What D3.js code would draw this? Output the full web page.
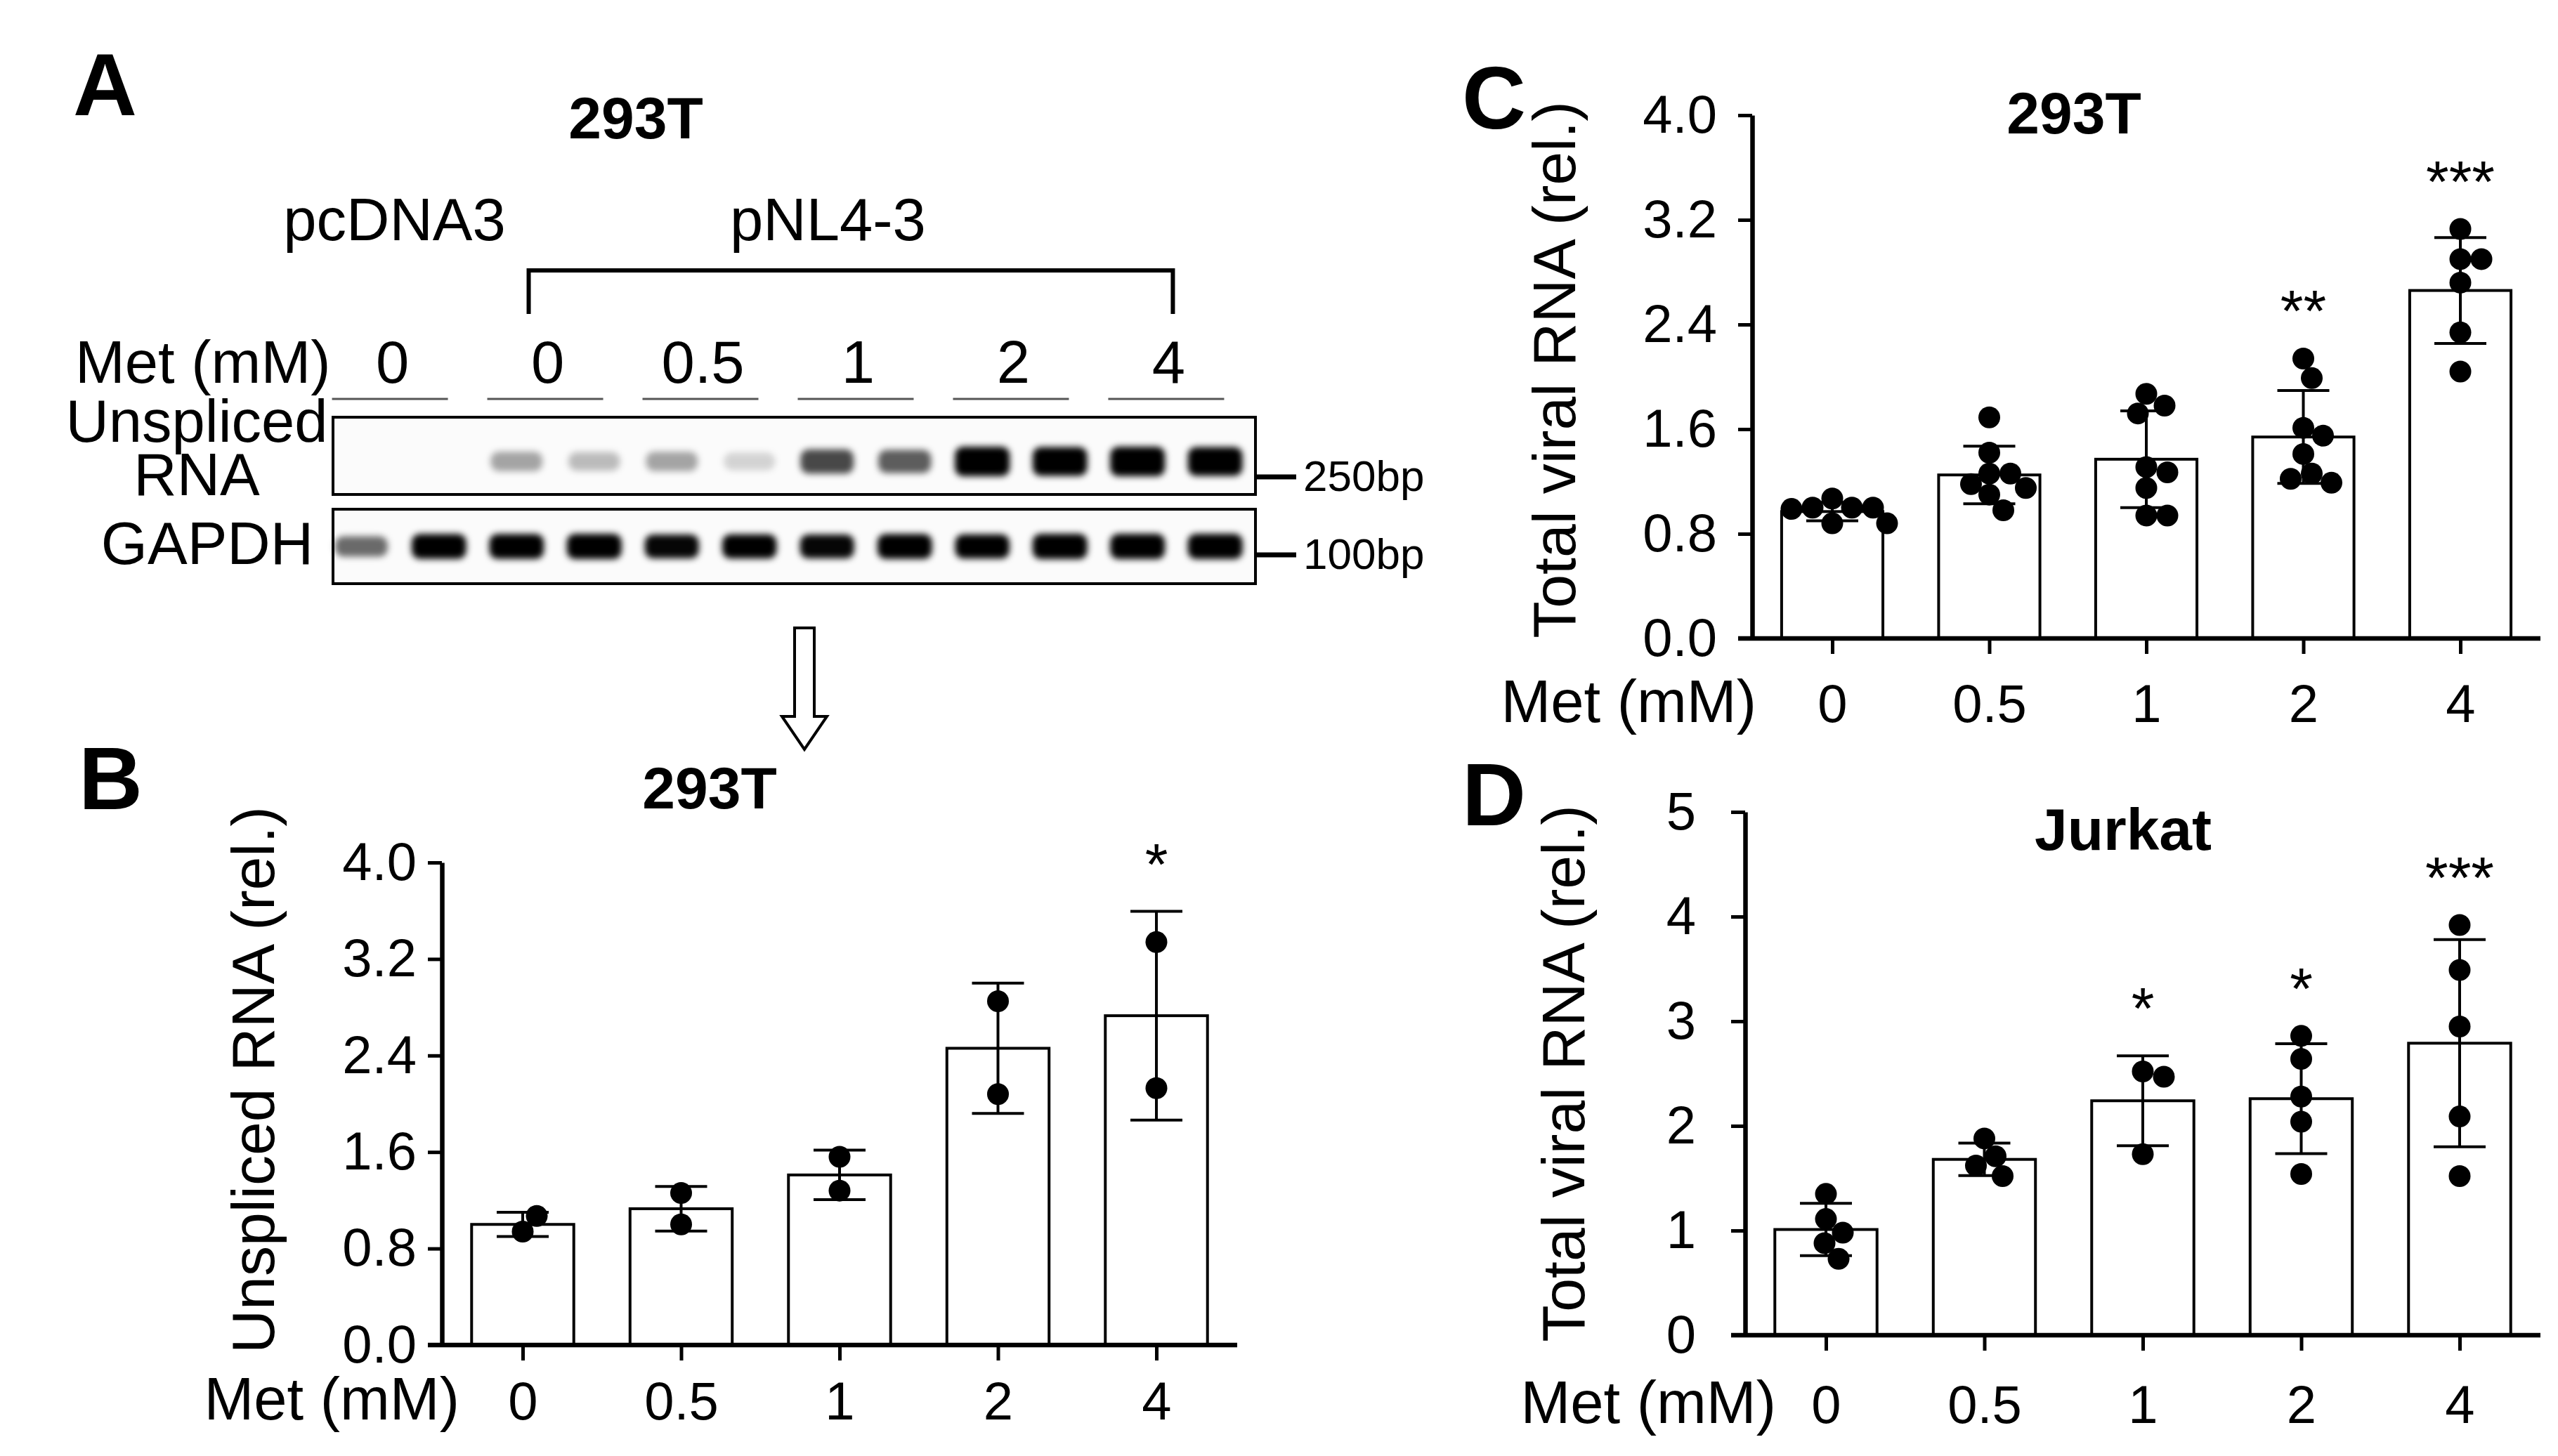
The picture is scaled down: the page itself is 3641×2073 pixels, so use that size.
<!DOCTYPE html>
<meta charset="utf-8">
<style>
body { margin: 0; background: #fff; }
text { font-family: "Liberation Sans", Arial, Helvetica, sans-serif; fill: #000; }
.title, .letter { font-weight: bold; }
</style>
<body>
<script src="https://cdn.jsdelivr.net/npm/d3@7"></script>
<script>

var doses = ["0", "0.5", "1", "2", "4"];

// panel A: gel lanes (pcDNA3 pair, then pNL4-3 pairs) and band strength 0..1
var laneDoses = ["0", "0", "0", "0", "0.5", "0.5", "1", "1", "2", "2", "4", "4"];
var unsplicedBands = [0, 0, 0.3, 0.22, 0.3, 0.14, 0.62, 0.55, 1, 0.95, 1, 0.95];
var gapdhBands = [0.5, 0.95, 0.95, 1, 0.85, 0.9, 0.85, 0.95, 0.9, 1, 1, 1];

// panel B: unspliced RNA, 293T
var bMean = [1.0, 1.13, 1.41, 2.46, 2.73];
var bSD = [0.10, 0.185, 0.205, 0.54, 0.865];
var bPoints = [[0.94, 1.07], [1.26, 1.0], [1.56, 1.28], [2.85, 2.08], [3.34, 2.13]];
var bStars = ["", "", "", "", "*"];
var bTicks = [0, 0.8, 1.6, 2.4, 3.2, 4.0];

// panel C: total viral RNA, 293T
var cMean = [0.97, 1.25, 1.37, 1.54, 2.66];
var cSD = [0.07, 0.22, 0.37, 0.355, 0.405];
var cPoints = [
  [1.07, 1.0, 1.0, 1.0, 0.99, 0.88, 0.88],
  [1.69, 1.42, 1.26, 1.26, 1.18, 1.15, 1.10, 0.98],
  [1.87, 1.78, 1.72, 1.31, 1.27, 1.15, 0.94, 0.94],
  [2.14, 1.99, 1.61, 1.55, 1.41, 1.26, 1.22, 1.19],
  [3.13, 2.90, 2.90, 2.72, 2.34, 2.04]
];
var cStars = ["", "", "", "**", "***"];
var cTicks = [0, 0.8, 1.6, 2.4, 3.2, 4.0];

// panel D: total viral RNA, Jurkat
var dMean = [1.01, 1.68, 2.24, 2.26, 2.79];
var dSD = [0.25, 0.155, 0.43, 0.525, 0.99];
var dPoints = [
  [1.35, 1.11, 0.98, 0.88, 0.73],
  [1.88, 1.71, 1.62, 1.52],
  [2.52, 2.47, 1.73],
  [2.86, 2.64, 2.28, 2.04, 1.54],
  [3.92, 3.49, 2.95, 2.09, 1.52]
];
var dStars = ["", "", "*", "*", "***"];
var dTicks = [0, 1, 2, 3, 4, 5];

var svg = d3.select("body").append("svg")
    .attr("width", 3641)
    .attr("height", 2073);

svg.append("rect").attr("width", 3641).attr("height", 2073).attr("fill", "#fff");

var defs = svg.append("defs");
defs.append("filter").attr("id", "blur")
    .attr("x", "-50%").attr("y", "-80%").attr("width", "200%").attr("height", "260%")
  .append("feGaussianBlur").attr("stdDeviation", 5);

function letter(s, x, y) {
  svg.append("text").attr("class", "letter")
      .attr("x", x).attr("y", y)
      .attr("font-size", 126)
      .text(s);
}

// simple beeswarm: push each dot sideways until it no longer overlaps
function swarm(vals, y, r) {
  var placed = [];
  return vals.map(function(v) {
    var py = y(v), off = 0;
    for (var k = 0; k < 400; k++) {
      var c = (k % 2 ? 1 : -1) * Math.ceil(k / 2) * 2;
      var ok = placed.every(function(q) {
        return (q[0] - c) * (q[0] - c) + (q[1] - py) * (q[1] - py) >= 4 * r * r * 0.92;
      });
      if (ok) { off = c; break; }
    }
    placed.push([off, py]);
    return off;
  });
}

function barPanel(p) {
  var x = d3.scalePoint().domain(doses).range([p.left, p.right]).padding(0.51);
  var y = d3.scaleLinear().domain([0, p.yMax]).range([p.bottom, p.top]);
  var bw = x.step() * 0.645;
  var r = 15.5;
  var g = svg.append("g");

  g.selectAll(".bar").data(p.mean).enter().append("rect")
      .attr("x", function(d, i) { return x(doses[i]) - bw / 2; })
      .attr("y", function(d) { return y(d); })
      .attr("width", bw)
      .attr("height", function(d) { return y(0) - y(d); })
      .attr("fill", "#fff")
      .attr("stroke", "#000")
      .attr("stroke-width", 4);

  // error bars, mean +/- SD
  p.mean.forEach(function(m, i) {
    var cx = x(doses[i]), hi = y(m + p.sd[i]), lo = y(m - p.sd[i]);
    g.append("line").attr("x1", cx).attr("x2", cx).attr("y1", hi).attr("y2", lo);
    g.append("line").attr("x1", cx - 37).attr("x2", cx + 37).attr("y1", hi).attr("y2", hi);
    g.append("line").attr("x1", cx - 37).attr("x2", cx + 37).attr("y1", lo).attr("y2", lo);
  });
  g.selectAll("line").attr("stroke", "#000").attr("stroke-width", 4);

  p.points.forEach(function(pts, i) {
    var offs = swarm(pts, y, r);
    g.selectAll(null).data(pts).enter().append("circle")
        .attr("cx", function(d, j) { return x(doses[i]) + offs[j]; })
        .attr("cy", function(d) { return y(d); })
        .attr("r", r)
        .attr("fill", "#000");
  });

  // significance stars
  p.stars.forEach(function(s, i) {
    if (!s) return;
    var top = Math.max(p.mean[i] + p.sd[i], d3.max(p.points[i]));
    g.append("text")
        .attr("x", x(doses[i]))
        .attr("y", y(top) - 38)
        .attr("text-anchor", "middle")
        .attr("font-size", 84)
        .text(s);
  });

  var yAxis = g.append("g")
      .attr("transform", "translate(" + p.left + ",0)")
      .call(d3.axisLeft(y).tickValues(p.ticks).tickFormat(p.fmt)
        .tickSize(20).tickSizeOuter(0).tickPadding(p.yPad));
  yAxis.select(".domain").attr("stroke-width", 6.5);
  yAxis.selectAll(".tick line").attr("stroke-width", 5);
  yAxis.selectAll("text").attr("font-size", 76).attr("font-family", null).attr("fill", "#000");

  var xAxis = g.append("g")
      .attr("transform", "translate(0," + p.bottom + ")")
      .call(d3.axisBottom(x).tickSize(22).tickSizeOuter(0));
  xAxis.select(".domain").remove();
  xAxis.selectAll(".tick line").attr("stroke-width", 5);
  xAxis.selectAll("text").attr("font-size", 76).attr("font-family", null).attr("fill", "#000")
      .attr("y", p.xBase).attr("dy", 0);
  g.append("line")
      .attr("x1", p.left - 20).attr("x2", p.right)
      .attr("y1", p.bottom).attr("y2", p.bottom)
      .attr("stroke", "#000").attr("stroke-width", 6.5);

  g.append("text")
      .attr("x", p.metEnd).attr("y", p.bottom + p.xBase)
      .attr("text-anchor", "end")
      .attr("font-size", 85)
      .text("Met (mM)");

  g.append("text")
      .attr("transform", "translate(" + p.yLabelX + "," + ((p.top + p.bottom) / 2 + p.yLabelShift) + ")rotate(-90)")
      .attr("text-anchor", "middle")
      .attr("font-size", 86)
      .text(p.yLabel);

  g.append("text").attr("class", "title")
      .attr("x", p.titleX).attr("y", p.titleY)
      .attr("text-anchor", "middle")
      .attr("font-size", 84)
      .text(p.title);
}

// ---------- panel A: gel ----------
letter("A", 104, 164);

svg.append("text").attr("class", "title")
    .attr("x", 905).attr("y", 197)
    .attr("text-anchor", "middle").attr("font-size", 84)
    .text("293T");

var lane = d3.scalePoint().domain(d3.range(12)).range([474, 1770]).padding(0.365);
var pairX = function(k) { return (lane(2 * k) + lane(2 * k + 1)) / 2; };

svg.append("text").attr("x", pairX(0) - 8).attr("y", 342)
    .attr("text-anchor", "middle").attr("font-size", 85).text("pcDNA3");
svg.append("text").attr("x", (pairX(1) + pairX(5)) / 2 - 54).attr("y", 342)
    .attr("text-anchor", "middle").attr("font-size", 85).text("pNL4-3");

svg.append("path")
    .attr("d", d3.line()([[pairX(1) - 38, 447], [pairX(1) - 38, 385], [pairX(5) - 5, 385], [pairX(5) - 5, 447]]))
    .attr("fill", "none").attr("stroke", "#000").attr("stroke-width", 6);

svg.append("text").attr("x", 107).attr("y", 545)
    .attr("font-size", 85).text("Met (mM)");

d3.range(6).forEach(function(k) {
  svg.append("text").attr("x", pairX(k) - 11).attr("y", 545)
      .attr("text-anchor", "middle").attr("font-size", 85)
      .text(laneDoses[2 * k]);
  svg.append("line")
      .attr("x1", pairX(k) - 97).attr("x2", pairX(k) + 68)
      .attr("y1", 568).attr("y2", 568)
      .attr("stroke", "#555").attr("stroke-width", 3);
});

svg.append("text").attr("x", 280).attr("y", 629)
    .attr("text-anchor", "middle").attr("font-size", 85).text("Unspliced");
svg.append("text").attr("x", 280).attr("y", 705)
    .attr("text-anchor", "middle").attr("font-size", 85).text("RNA");
svg.append("text").attr("x", 295).attr("y", 803)
    .attr("text-anchor", "middle").attr("font-size", 85).text("GAPDH");

function gelRow(bands, y0, y1, bandY, grow) {
  svg.append("rect")
      .attr("x", 474).attr("y", y0).attr("width", 1313).attr("height", y1 - y0)
      .attr("fill", "#fbfbfb").attr("stroke", "#000").attr("stroke-width", 4);
  svg.append("g").attr("filter", "url(#blur)")
    .selectAll("rect").data(bands).enter().append("rect")
      .attr("x", function(d, i) { return lane(i) - 36 - 3 * d; })
      .attr("y", function(d) { return bandY - grow * d - 11; })
      .attr("width", function(d) { return 72 + 6 * d; })
      .attr("height", function(d) { return 22 + 2 * grow * d; })
      .attr("rx", 12)
      .attr("fill", "#000")
      .attr("opacity", function(d) { return Math.min(1, d * 1.15); });
}
gelRow(unsplicedBands, 594, 704, 657, 10);
gelRow(gapdhBands, 725, 831, 778, 7);

[["250bp", 679], ["100bp", 790]].forEach(function(m) {
  svg.append("line").attr("x1", 1787).attr("x2", 1845)
      .attr("y1", m[1]).attr("y2", m[1])
      .attr("stroke", "#000").attr("stroke-width", 7);
  svg.append("text").attr("x", 1855).attr("y", m[1] + 20)
      .attr("font-size", 62).text(m[0]);
});

// hollow down arrow between A and B
var ax = 1145;
svg.append("path")
    .attr("d", d3.line()([[ax - 14, 894], [ax + 14, 894], [ax + 14, 1020], [ax + 32, 1020],
                          [ax, 1067], [ax - 32, 1020], [ax - 14, 1020]]) + "Z")
    .attr("fill", "#fff").attr("stroke", "#000").attr("stroke-width", 4);

// ---------- panels B, C, D ----------
letter("B", 112, 1152);
barPanel({
  left: 629, right: 1761, top: 1228, bottom: 1915, yMax: 4,
  mean: bMean, sd: bSD, points: bPoints, stars: bStars,
  ticks: bTicks, fmt: d3.format(".1f"), yPad: 16, xBase: 106,
  metEnd: 654, yLabelX: 390, yLabelShift: -34, yLabel: "Unspliced RNA (rel.)",
  title: "293T", titleX: 1010, titleY: 1151
});

letter("C", 2081, 183);
barPanel({
  left: 2494, right: 3616, top: 164, bottom: 909, yMax: 4,
  mean: cMean, sd: cSD, points: cPoints, stars: cStars,
  ticks: cTicks, fmt: d3.format(".1f"), yPad: 30, xBase: 119,
  metEnd: 2500, yLabelX: 2242, yLabelShift: -10, yLabel: "Total viral RNA (rel.)",
  title: "293T", titleX: 2952, titleY: 190
});

letter("D", 2081, 1175);
barPanel({
  left: 2484, right: 3616, top: 1156, bottom: 1901, yMax: 5,
  mean: dMean, sd: dSD, points: dPoints, stars: dStars,
  ticks: dTicks, fmt: d3.format("d"), yPad: 50, xBase: 125,
  metEnd: 2528, yLabelX: 2255, yLabelShift: 0, yLabel: "Total viral RNA (rel.)",
  title: "Jurkat", titleX: 3022, titleY: 1210
});

</script>
</body>
</html>
